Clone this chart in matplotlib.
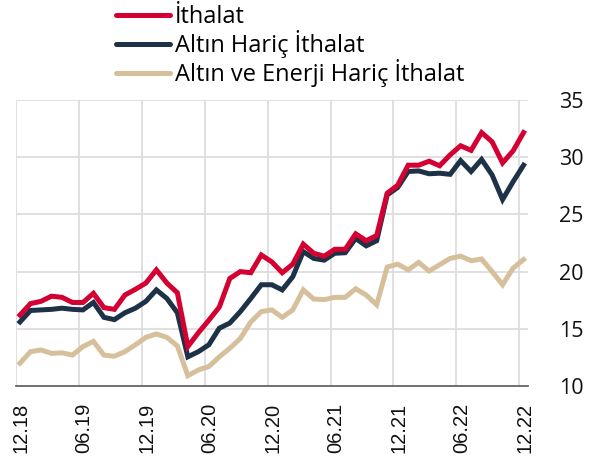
import matplotlib
matplotlib.use("Agg")
import matplotlib.pyplot as plt
import numpy as np

tick_labels = ["12.18", "06.19", "12.19", "06.20", "12.20", "06.21", "12.21", "06.22", "12.22"]

ithalat = [16.2, 17.2, 17.4, 17.85, 17.75, 17.3, 17.3, 18.1, 16.85, 16.7,
           17.95, 18.45, 19.0, 20.15, 19.0, 18.15, 13.45, 14.65, 15.75, 16.9,
           19.4, 20.0, 19.9, 21.45, 20.85, 19.9, 20.65, 22.4, 21.6, 21.35,
           21.95, 21.95, 23.3, 22.7, 23.15, 26.85, 27.55, 29.3, 29.3, 29.65,
           29.25, 30.2, 31.0, 30.6, 32.15, 31.35, 29.5, 30.55, 32.15]
altin_haric = [15.6, 16.6, 16.65, 16.7, 16.8, 16.7, 16.65, 17.3, 16.0, 15.8,
               16.4, 16.8, 17.4, 18.4, 17.65, 16.4, 12.55, 13.0, 13.6, 15.05,
               15.5, 16.5, 17.65, 18.85, 18.85, 18.4, 19.55, 21.75, 21.15, 21.0,
               21.6, 21.65, 22.9, 22.25, 22.7, 26.7, 27.35, 28.75, 28.8, 28.55,
               28.6, 28.5, 29.7, 28.75, 29.8, 28.45, 26.3, 27.85, 29.3]
altin_enerji_haric = [12.0, 13.0, 13.15, 12.85, 12.9, 12.7, 13.45, 13.9, 12.7, 12.6,
                      13.0, 13.6, 14.25, 14.55, 14.25, 13.5, 10.9, 11.4, 11.7, 12.55,
                      13.3, 14.15, 15.6, 16.5, 16.65, 16.0, 16.65, 18.4, 17.6, 17.55,
                      17.75, 17.75, 18.5, 17.95, 17.1, 20.4, 20.65, 20.15, 20.8, 20.05,
                      20.6, 21.15, 21.35, 20.95, 21.1, 20.0, 18.85, 20.3, 21.05]

series = [
    ("İthalat", ithalat, "#D50032"),
    ("Altın Hariç İthalat", altin_haric, "#1D3247"),
    ("Altın ve Enerji Hariç İthalat", altin_enerji_haric, "#D6C09C"),
]

fig = plt.figure(figsize=(5.94, 4.71), dpi=100)
ax = fig.add_axes([0.0266, 0.1805, 0.889 - 0.0266, 0.7877 - 0.1805])

x = np.arange(len(ithalat))
for name, vals, col in series[::-1]:
    ax.plot(x, vals, color=col, lw=3.6, label=name, solid_joinstyle="miter")

off = -0.4
ax.set_xlim(off, 48.43)
ax.set_ylim(10, 35)
grid_pos = np.arange(0, 49, 6) + off
ax.set_xticks(grid_pos)
ax.set_xticklabels([""] * len(grid_pos))
ax.set_xticks(grid_pos + 0.5, minor=True)
ax.set_xticklabels(tick_labels, minor=True, rotation=90, fontsize=14.5,
                   family="Liberation Sans", color="#111111")
ax.set_yticks([10, 15, 20, 25, 30, 35])
ax.yaxis.tick_right()
ax.tick_params(axis="y", length=0, pad=22, labelsize=15.5, labelcolor="#111111")
ax.tick_params(axis="x", which="both", length=0, pad=12)
for lab in ax.get_yticklabels():
    lab.set_family("Open Sans")
ax.grid(True, which="major", color="#DDDDDD", lw=1.3)
ax.set_axisbelow(True)
for s in ["top", "left", "right"]:
    ax.spines[s].set_visible(False)
ax.spines["bottom"].set_color("#666666")
ax.spines["bottom"].set_linewidth(1.3)

handles, labels = ax.get_legend_handles_labels()
leg = fig.legend(handles[::-1], labels[::-1], loc="upper left",
                 bbox_to_anchor=(116 / 594, 1 - 5 / 471), frameon=False,
                 prop={"family": "Open Sans", "size": 17}, handlelength=2.3,
                 handletextpad=0.2, labelspacing=0.05, borderaxespad=0, borderpad=0)
for h in leg.get_lines():
    h.set_linewidth(3.6)
    h.set_solid_capstyle("round")

fig.savefig("out.png", dpi=100)
